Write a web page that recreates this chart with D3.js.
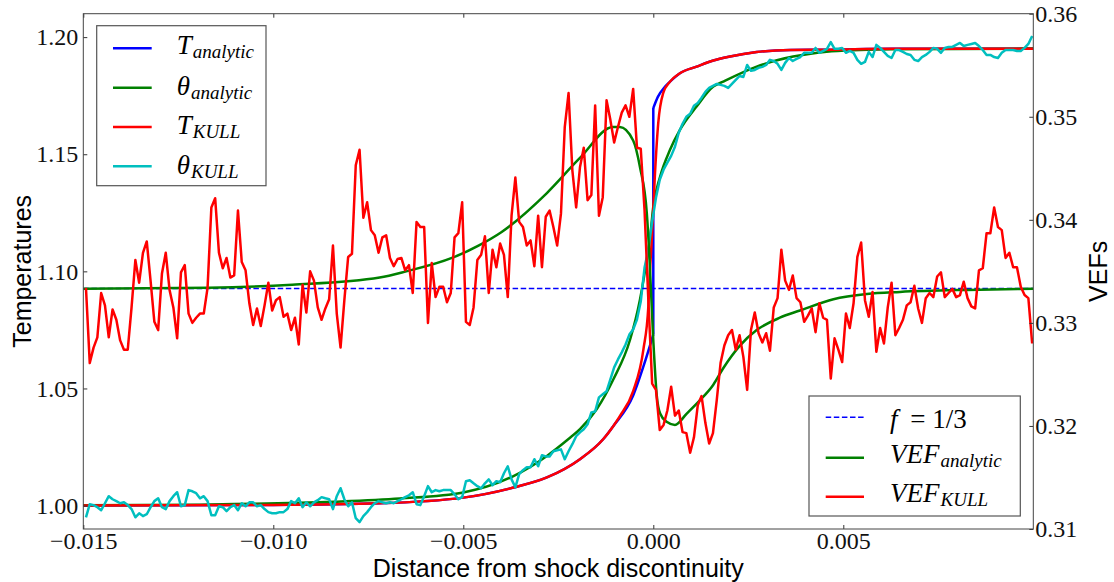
<!DOCTYPE html>
<html><head><meta charset="utf-8">
<script src="https://cdn.jsdelivr.net/npm/d3@7"></script>
<style>
body{margin:0;background:#fff;}
svg{display:block;}
.tick text{font-family:"Liberation Serif",serif;font-size:24px;fill:#111;}
.tick line{stroke:#333;stroke-width:1;}
</style></head><body>
<svg id="chart" width="1114" height="582"></svg>
<script>
// ---------- data ----------
const xTicks = [-0.015, -0.010, -0.005, 0.000, 0.005];
const tTicks = [1.00, 1.05, 1.10, 1.15, 1.20];
const vTicks = [0.31, 0.32, 0.33, 0.34, 0.35, 0.36];

// KULL zone positions (uniform mesh, 250 zones)
const xKULL = d3.range(250).map(i => +(-0.01493 + i * 0.0001).toFixed(5));

const thetaKULL = [
0.9950,1.0006,1.0002,0.9993,0.9980,1.0010,1.0040,1.0027,1.0019,1.0010,
1.0014,1.0002,0.9985,0.9950,0.9967,0.9955,0.9963,0.9993,1.0019,1.0031,
0.9993,0.9985,1.0019,1.0040,1.0057,0.9997,1.0002,1.0066,1.0061,1.0053,
1.0031,1.0040,1.0019,0.9959,0.9959,0.9997,0.9993,0.9976,0.9993,1.0002,
0.9980,1.0010,0.9997,1.0014,1.0014,0.9997,1.0002,0.9985,0.9972,0.9967,
0.9967,0.9972,0.9972,0.9985,1.0019,1.0010,1.0031,0.9993,1.0014,0.9997,
1.0014,1.0023,1.0036,1.0031,1.0027,0.9985,1.0040,1.0074,1.0027,0.9997,
1.0014,0.9946,0.9929,0.9955,0.9972,0.9993,1.0010,1.0019,1.0014,1.0010,
1.0014,1.0010,1.0019,1.0027,1.0036,1.0044,1.0057,1.0006,1.0002,1.0040,
1.0083,1.0057,1.0066,1.0061,1.0066,1.0066,1.0066,1.0048,1.0027,1.0036,
1.0104,1.0108,1.0095,1.0083,1.0074,1.0095,1.0112,1.0087,1.0104,1.0100,
1.0138,1.0168,1.0112,1.0078,1.0134,1.0151,1.0164,1.0164,1.0198,1.0168,
1.0215,1.0210,1.0210,1.0232,1.0236,1.0240,1.0198,1.0232,1.0262,1.0296,
1.0313,1.0326,1.0347,1.0398,1.0402,1.0462,1.0475,1.0488,1.0539,1.0590,
1.0624,1.0654,1.0688,1.0730,1.0752,1.0794,1.0871,1.1016,1.1093,1.1212,
1.1314,1.1391,1.1434,1.1464,1.1493,1.1532,1.1592,1.1630,1.1660,1.1673,
1.1707,1.1719,1.1741,1.1766,1.1783,1.1792,1.1800,1.1796,1.1792,1.1783,
1.1800,1.1817,1.1834,1.1830,1.1881,1.1856,1.1860,1.1869,1.1873,1.1881,
1.1903,1.1898,1.1886,1.1860,1.1890,1.1911,1.1898,1.1907,1.1915,1.1933,
1.1933,1.1933,1.1954,1.1933,1.1941,1.1950,1.1979,1.1950,1.1950,1.1954,
1.1933,1.1941,1.1933,1.1903,1.1886,1.1894,1.1937,1.1915,1.1967,1.1954,
1.1937,1.1920,1.1911,1.1945,1.1945,1.1937,1.1928,1.1924,1.1903,1.1898,
1.1915,1.1924,1.1937,1.1954,1.1950,1.1933,1.1954,1.1958,1.1958,1.1967,
1.1975,1.1962,1.1967,1.1971,1.1975,1.1962,1.1945,1.1924,1.1924,1.1915,
1.1911,1.1933,1.1945,1.1945,1.1945,1.1941,1.1941,1.1954,1.1971,1.2005];

const vefKULL = [
0.3334,0.3261,0.3276,0.3286,0.3329,0.3317,0.3286,0.3313,0.3303,0.3283,
0.3274,0.3274,0.3315,0.3361,0.3339,0.3368,0.3379,0.3341,0.3301,0.3293,
0.3348,0.3368,0.3332,0.3315,0.3285,0.3349,0.3356,0.3309,0.3300,0.3305,
0.3309,0.3309,0.3334,0.3412,0.3421,0.3368,0.3353,0.3363,0.3344,0.3346,
0.3409,0.3359,0.3351,0.3319,0.3298,0.3314,0.3297,0.3317,0.3339,0.3312,
0.3322,0.3325,0.3306,0.3309,0.3293,0.3305,0.3279,0.3337,0.3310,0.3350,
0.3341,0.3315,0.3303,0.3314,0.3323,0.3375,0.3309,0.3276,0.3322,0.3364,
0.3367,0.3453,0.3468,0.3402,0.3417,0.3390,0.3385,0.3368,0.3383,0.3385,
0.3363,0.3355,0.3362,0.3363,0.3351,0.3356,0.3329,0.3398,0.3393,0.3393,
0.3300,0.3358,0.3325,0.3335,0.3335,0.3320,0.3329,0.3383,0.3387,0.3417,
0.3301,0.3298,0.3315,0.3361,0.3366,0.3384,0.3329,0.3371,0.3354,0.3377,
0.3366,0.3325,0.3404,0.3441,0.3398,0.3393,0.3375,0.3380,0.3355,0.3404,
0.3354,0.3403,0.3409,0.3393,0.3375,0.3406,0.3490,0.3523,0.3448,0.3412,
0.3451,0.3470,0.3419,0.3424,0.3511,0.3404,0.3422,0.3516,0.3497,0.3475,
0.3490,0.3504,0.3511,0.3500,0.3527,0.3470,0.3469,0.3409,0.3322,0.3241,
0.3235,0.3196,0.3201,0.3215,0.3238,0.3210,0.3215,0.3194,0.3193,0.3174,
0.3189,0.3220,0.3229,0.3203,0.3183,0.3193,0.3225,0.3261,0.3278,0.3288,
0.3293,0.3274,0.3288,0.3267,0.3235,0.3293,0.3310,0.3290,0.3281,0.3290,
0.3273,0.3315,0.3324,0.3371,0.3341,0.3332,0.3346,0.3324,0.3320,0.3301,
0.3307,0.3314,0.3291,0.3319,0.3305,0.3303,0.3246,0.3285,0.3274,0.3262,
0.3309,0.3295,0.3319,0.3364,0.3378,0.3322,0.3306,0.3330,0.3272,0.3295,
0.3280,0.3315,0.3339,0.3288,0.3295,0.3303,0.3317,0.3320,0.3336,0.3314,
0.3300,0.3324,0.3329,0.3325,0.3345,0.3349,0.3325,0.3329,0.3333,0.3325,
0.3327,0.3340,0.3324,0.3316,0.3314,0.3351,0.3353,0.3387,0.3387,0.3412,
0.3393,0.3390,0.3363,0.3368,0.3354,0.3354,0.3335,0.3327,0.3324,0.3280];

// analytic / smooth curves: [x, value]
const thetaAnalytic = [
[-0.015,1.0001],[-0.012,1.0004],[-0.0084,1.0016],[-0.00667,1.0030],[-0.005,1.0056],
[-0.00368,1.0126],[-0.0028,1.0212],[-0.00224,1.0283],[-0.00193,1.0326],[-0.00149,1.0411],
[-0.00105,1.0539],[-0.00061,1.0709],[-0.00035,1.0880],[-0.00017,1.1050],[-0.00009,1.1135],
[0,1.1277],[0.00018,1.1405],[0.00044,1.1519],[0.0007,1.1604],[0.00114,1.1704],
[0.00158,1.1789],[0.00184,1.1810],[0.00272,1.1874],[0.00368,1.1917],[0.00456,1.1938],
[0.00544,1.1945],[0.00631,1.1948],[0.010,1.1951]];

const tKULL = [
[-0.015,1.0000],[-0.010,1.0003],[-0.0072,1.0010],[-0.005,1.0034],[-0.00368,1.0077],
[-0.0028,1.0120],[-0.00193,1.0198],[-0.00132,1.0283],[-0.00105,1.0340],[-0.00088,1.0382],
[-0.00053,1.0489],[-0.00026,1.0667],[-0.00013,1.0851],[-0.00009,1.0995],[-0.00004,1.1135],
[0.000045,1.1420],[0.00013,1.1633],[0.00026,1.1761],[0.00044,1.1810],[0.0007,1.1846],
[0.00114,1.1874],[0.00158,1.1900],[0.00202,1.1917],[0.00272,1.1936],[0.0036,1.1945],
[0.00456,1.1946],[0.00631,1.1950],[0.010,1.1950]];

const tAnalyticPre = [
[-0.015,1.0000],[-0.010,1.0003],[-0.0072,1.0010],[-0.005,1.0034],[-0.00368,1.0077],
[-0.0028,1.0120],[-0.00193,1.0198],[-0.00132,1.0283],[-0.00105,1.0340],
[-0.00053,1.0470],[-0.00026,1.0594],[0,1.0730]];
const tAnalyticPost = [
[0,1.1697],[0.00012,1.1745],[0.00031,1.1789],[0.00044,1.1810],[0.0007,1.1846],
[0.00114,1.1874],[0.00158,1.1900],[0.00202,1.1917],[0.00272,1.1936],[0.0036,1.1945],
[0.00456,1.1946],[0.00631,1.1950],[0.010,1.1950]];

const vefAnalytic = [
[-0.015,0.3333],[-0.0117,0.3334],[-0.0095,0.3337],[-0.0072,0.3344],[-0.0065,0.3350],
[-0.0053,0.3363],[-0.0046,0.3375],[-0.0040,0.3388],[-0.0028,0.3426],[-0.00193,0.3460],
[-0.00106,0.3490],[-0.00088,0.3490],[-0.00053,0.3477],[-0.00035,0.3451],[-0.00017,0.3406],
[-0.00011,0.3370],[0,0.3283],[0.00009,0.3230],[0.00018,0.3212],[0.00035,0.3204],
[0.00057,0.3201],[0.00088,0.3212],[0.00123,0.3225],[0.00158,0.3240],[0.00184,0.3256],
[0.00228,0.3278],[0.00272,0.3293],[0.00333,0.3305],[0.00386,0.3312],[0.00474,0.3323],
[0.00562,0.3328],[0.00649,0.3330],[0.00825,0.3332],[0.010,0.3333]];

const fIsotropic = 1/3;

// ---------- layout ----------
const L = 83.3, R = 1033.3, T = 13.7, B = 529;
const svg = d3.select("#chart");
svg.append("rect").attr("width",1114).attr("height",582).attr("fill","#fff");

const x = d3.scaleLinear().domain([-0.015, 0.010]).range([L, R]);
const yT = d3.scaleLinear().domain([0.99, 1.21]).range([B, T]);
const yV = d3.scaleLinear().domain([0.31, 0.36]).range([B, T]);

svg.append("defs").append("clipPath").attr("id","clip")
  .append("rect").attr("x",L).attr("y",T).attr("width",R-L).attr("height",B-T);

const C = {blue:"#0000ff", green:"#008000", red:"#ff0000", cyan:"#00bfbf"};
const LW = 2.5;

const plot = svg.append("g").attr("clip-path","url(#clip)");
function path(d, col, opts={}) {
  const p = plot.append("path").attr("d", d).attr("fill","none")
    .attr("stroke", col).attr("stroke-width", opts.w || LW)
    .attr("stroke-linejoin","round").attr("stroke-linecap", opts.cap || "butt");
  if (opts.dash) p.attr("stroke-dasharray", opts.dash);
  return p;
}
const smooth = (y) => d3.line().x(d => x(d[0])).y(d => y(d[1])).curve(d3.curveMonotoneX);
const straight = (y) => d3.line().x(d => x(d[0])).y(d => y(d[1]));
const kull = (y) => d3.line().x((d,i) => x(xKULL[i])).y(d => y(d));

// temperatures (left axis)
path(smooth(yT)(tAnalyticPre), C.blue);
path(straight(yT)([[0, tAnalyticPre[tAnalyticPre.length-1][1]], [0, tAnalyticPost[0][1]]]), C.blue);
path(smooth(yT)(tAnalyticPost), C.blue);
path(smooth(yT)(thetaAnalytic), C.green);
path(smooth(yT)(tKULL), C.red);
path(kull(yT)(thetaKULL), C.cyan);

// VEFs (right axis)
path(straight(yV)([[-0.015, fIsotropic], [0.010, fIsotropic]]), C.blue, {w:1.5, dash:"5.5,2.6"});
path(smooth(yV)(vefAnalytic), C.green);
path(kull(yV)(vefKULL), C.red);

// ---------- axes ----------
const fx = d => d === 0 ? "0.000" : (d < 0 ? "\u2212" : "") + Math.abs(d).toFixed(3);
const gb = svg.append("g").attr("transform",`translate(0,${B})`)
  .call(d3.axisBottom(x).tickValues(xTicks).tickSizeInner(-4).tickSizeOuter(0).tickPadding(3).tickFormat(fx));
const gt = svg.append("g").attr("transform",`translate(0,${T})`)
  .call(d3.axisTop(x).tickValues(xTicks).tickSizeInner(-4).tickSizeOuter(0).tickFormat(""));
const gl = svg.append("g").attr("transform",`translate(${L},0)`)
  .call(d3.axisLeft(yT).tickValues(tTicks).tickSizeInner(-4).tickSizeOuter(0).tickPadding(5).tickFormat(d3.format(".2f")));
const gr = svg.append("g").attr("transform",`translate(${R},0)`)
  .call(d3.axisRight(yV).tickValues(vTicks).tickSizeInner(-4).tickSizeOuter(0).tickPadding(2).tickFormat(d3.format(".2f")));
[gb,gt,gl,gr].forEach(g => g.select(".domain").remove());

svg.append("rect").attr("x",L).attr("y",T).attr("width",R-L).attr("height",B-T)
  .attr("fill","none").attr("stroke","#444").attr("stroke-width",1);

// axis titles
const sans = "'Liberation Sans', Arial, sans-serif";
svg.append("text").attr("x",(L+R)/2).attr("y",577).attr("text-anchor","middle")
  .attr("font-family",sans).attr("font-size",25).attr("fill","#000")
  .text("Distance from shock discontinuity");
svg.append("text").attr("transform",`translate(31,${(T+B)/2}) rotate(-90)`).attr("text-anchor","middle")
  .attr("font-family",sans).attr("font-size",25).attr("fill","#000").text("Temperatures");
svg.append("text").attr("transform",`translate(1107,${(T+B)/2}) rotate(-90)`).attr("text-anchor","middle")
  .attr("font-family",sans).attr("font-size",25).attr("fill","#000").text("VEFs");

// ---------- legends ----------
const serif = "'Liberation Serif', 'Times New Roman', serif";
function legendBox(x0,y0,x1,y1){
  svg.append("rect").attr("x",x0).attr("y",y0).attr("width",x1-x0).attr("height",y1-y0)
    .attr("fill","#fff").attr("stroke","#555").attr("stroke-width",1.2);
}
function legendLine(x0,x1,y,col,dash,w){
  const l = svg.append("line").attr("x1",x0).attr("x2",x1).attr("y1",y).attr("y2",y)
    .attr("stroke",col).attr("stroke-width",w||LW);
  if (dash) l.attr("stroke-dasharray",dash);
}
function mathLabel(xp, yp, main, sub){
  const t = svg.append("text").attr("x",xp).attr("y",yp).attr("font-family",serif)
    .attr("font-style","italic").attr("font-size",27).attr("fill","#000");
  t.append("tspan").text(main);
  if (sub) t.append("tspan").attr("font-size",19).attr("dy",4).attr("dx",1).text(sub);
  return t;
}
// legend 1 (temperatures)
legendBox(96.7,25.7,266,185.7);
const leg1 = [
  {c:C.blue, y:48.3, m:"T", s:"analytic", dy:6},
  {c:C.green, y:87.7, m:"\u03B8", s:"analytic", dy:7},
  {c:C.red, y:127, m:"T", s:"KULL", dy:7},
  {c:C.cyan, y:166.3, m:"\u03B8", s:"KULL", dy:8}];
leg1.forEach(e => { legendLine(113,151.7,e.y,e.c); mathLabel(176.7, e.y+e.dy, e.m, e.s); });

// legend 2 (VEFs)
legendBox(809,396,1020.3,516);
legendLine(825.7,864,417.3,C.blue,"5.5,2.6",1.5);
const ft = svg.append("text").attr("x",890).attr("y",428).attr("font-family",serif)
  .attr("font-size",27).attr("fill","#000");
ft.append("tspan").attr("font-style","italic").text("f");
ft.append("tspan").attr("dx",6).text(" = 1/3");
legendLine(825.7,864,457.7,C.green);
mathLabel(890, 463.3, "VEF", "analytic");
legendLine(825.7,864,496.7,C.red);
mathLabel(890, 502, "VEF", "KULL");
</script></body></html>
